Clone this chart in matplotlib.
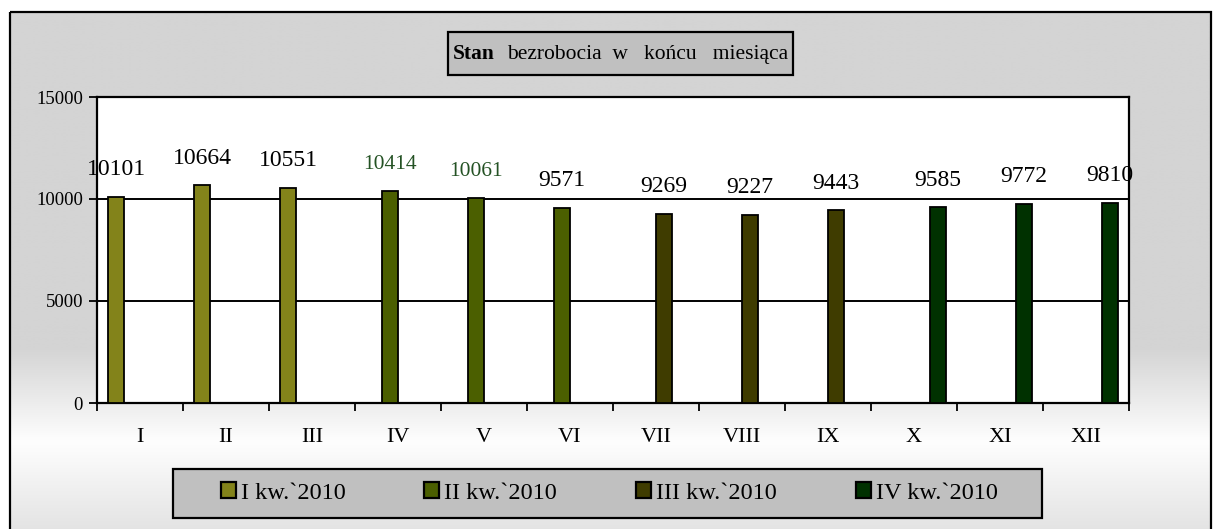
import matplotlib.pyplot as plt
import numpy as np
from matplotlib.patches import Rectangle

plt.rcParams['font.family'] = ['Liberation Serif', 'DejaVu Serif']

months = ['I', 'II', 'III', 'IV', 'V', 'VI', 'VII', 'VIII', 'IX', 'X', 'XI', 'XII']
quarters = ['I kw.`2010', 'II kw.`2010', 'III kw.`2010', 'IV kw.`2010']
q1 = [10101, 10664, 10551]
q2 = [10414, 10061, 9571]
q3 = [9269, 9227, 9443]
q4 = [9585, 9772, 9810]
colors = ['#83831a', '#4b5f00', '#3f3c00', '#003100']
label_colors = ['black', 'black', 'black', '#245224', '#245224', 'black',
                'black', 'black', 'black', 'black', 'black', 'black']

W, H = 1213, 529
fig = plt.figure(figsize=(W / 100, H / 100), dpi=100)

# gradient background of the chart panel (pixel coords)
bg = fig.add_axes([0, 0, 1, 1], zorder=-2)
bg.set_xlim(0, W)
bg.set_ylim(H, 0)
bg.axis('off')
rows = np.arange(H)
shade = np.interp(rows, [0, 340, 435, 529], [212, 212, 254, 226]) / 255
grad = np.repeat(shade[:, None], 2, axis=1)
bg.imshow(np.dstack([grad, grad, grad]), extent=[10, 1211, H + 5, 12],
          aspect='auto', interpolation='bilinear')
bg.add_patch(Rectangle((10, 12), 1201, H, fill=False, lw=1.6, ec='black'))

# title box
bg.add_patch(Rectangle((448, 32), 345, 43, fc='#c0c0c0', ec='black', lw=1.6))
bg.text(453, 59, 'Stan', fontsize=15.5, fontweight='bold', va='baseline')
bg.text(507, 59, 'bezrobocia  w   końcu   miesiąca', fontsize=15.5, va='baseline')

# legend box
bg.add_patch(Rectangle((173, 469), 869, 49, fc='#c0c0c0', ec='black', lw=1.6))

ax = fig.add_axes([97 / W, 1 - 403 / H, (1129 - 97) / W, (403 - 97) / H])
x = np.arange(len(months))
w = 0.186
series = [q1, q2, q3, q4]
texts = []
for s, vals in enumerate(series):
    idx = x[3 * s:3 * s + 3]
    bars = ax.bar(idx + (s - 1.5) * w, vals, w, color=colors[s], edgecolor='black',
                  lw=1.3, label=quarters[s], zorder=3)
    texts += ax.bar_label(bars, padding=12, fontsize=17)
for t, c in zip(texts, label_colors):
    t.set_color(c)
    if c != 'black':
        t.set_fontsize(15.5)

ax.set_xlim(-0.5, 11.5)
ax.set_ylim(0, 15000)
ax.set_yticks([0, 5000, 10000, 15000])
ax.tick_params(axis='y', labelsize=13.5, length=6, width=1.3, direction='out', pad=4)
ax.set_xticks(np.arange(-0.5, 12, 1))
ax.set_xticklabels([])
ax.set_xticks(x, months, minor=True)
ax.tick_params(axis='x', which='major', length=6, width=1.3, direction='out')
ax.tick_params(axis='x', which='minor', length=0, labelsize=16, pad=18)
for yv in [5000, 10000]:
    ax.axhline(yv, color='black', lw=1.4, zorder=1)
for sp in ax.spines.values():
    sp.set_linewidth(1.6)

leg = fig.legend(loc='center', bbox_to_anchor=(609 / W, 1 - 493 / H), ncol=4,
                 fontsize=17.5, frameon=False, handlelength=0.62,
                 handleheight=0.62, handletextpad=0.2, columnspacing=3.25,
                 borderpad=0.2)
for h in leg.legend_handles:
    h.set_linewidth(1.6)

fig.savefig('out.png', dpi=100)
